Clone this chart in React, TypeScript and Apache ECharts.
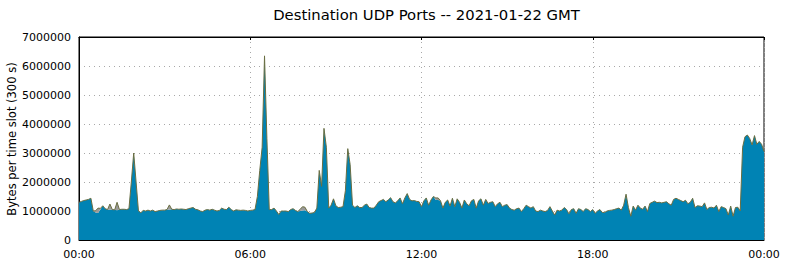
import React, { useEffect, useRef } from "react";
import * as echarts from "echarts";

const TITLE = "Destination UDP Ports -- 2021-01-22 GMT";
const Y_NAME = "Bytes per time slot (300 s)";
const SLOT_MINUTES = 5;
const X_LABEL_EVERY = 72;
const Y_MAX = 7000000;
const Y_STEP = 1000000;

// Main traffic (millions of bytes per 5-minute slot), one value per slot, 00:00 .. 24:00
const mainM: number[] = [
  1.30, 1.33, 1.36, 1.38, 1.40, 1.44, 1.00, 0.95, 0.93, 1.05, 1.18, 1.08,
  1.05, 1.04, 1.05, 1.04, 1.03, 1.05, 1.06, 1.06, 1.05, 1.08, 2.00, 3.00,
  2.00, 1.00, 0.94, 1.02, 1.00, 1.03, 1.00, 1.03, 0.98, 1.00, 1.02, 1.03,
  1.03, 1.05, 1.04, 1.06, 1.05, 1.07, 1.06, 1.07, 1.06, 1.05, 1.08, 1.10,
  1.12, 1.06, 1.04, 1.00, 0.98, 1.03, 1.05, 1.03, 1.06, 1.03, 1.00, 1.02,
  1.10, 1.06, 1.05, 1.13, 1.05, 1.00, 1.04, 1.03, 1.02, 1.03, 1.02, 1.00,
  1.02, 1.03, 1.05, 1.50, 2.40, 3.20, 6.35, 3.50, 1.05, 1.05, 1.10, 1.00,
  0.88, 1.00, 1.00, 1.00, 0.98, 1.05, 1.08, 1.02, 0.98, 1.00, 1.02, 1.03,
  0.98, 0.92, 0.93, 0.95, 1.10, 2.40, 1.85, 3.85, 3.20, 1.10, 1.20, 1.42,
  1.18, 1.12, 1.13, 1.15, 1.70, 3.15, 2.60, 1.20, 1.12, 1.18, 1.12, 1.12,
  1.20, 1.24, 1.12, 1.10, 1.10, 1.20, 1.32, 1.36, 1.40, 1.32, 1.38, 1.46,
  1.32, 1.28, 1.35, 1.45, 1.25, 1.45, 1.60, 1.40, 1.35, 1.36, 1.33, 1.32,
  1.15, 1.35, 1.45, 1.20, 1.38, 1.50, 1.38, 1.38, 1.35, 1.10, 1.30, 1.38,
  1.17, 1.44, 1.15, 1.42, 1.30, 1.10, 1.38, 1.25, 1.18, 1.35, 1.40, 1.10,
  1.35, 1.42, 1.20, 1.40, 1.26, 1.30, 1.32, 1.15, 1.25, 1.30, 1.15, 1.20,
  1.22, 1.10, 1.05, 1.03, 1.08, 1.10, 0.98, 1.08, 1.20, 1.15, 1.10, 1.15,
  1.00, 0.98, 1.03, 1.00, 0.98, 1.02, 1.15, 1.00, 0.86, 1.03, 1.00, 1.03,
  1.12, 1.05, 0.90, 1.05, 1.08, 0.92, 1.08, 1.05, 0.98, 1.08, 1.05, 0.98,
  1.05, 0.92, 1.00, 1.05, 0.95, 0.95, 1.00, 1.02, 1.03, 1.05, 1.08, 1.10,
  1.03, 1.20, 1.58, 1.12, 0.82, 1.17, 1.03, 1.20, 1.10, 1.06, 1.17, 0.98,
  1.26, 1.30, 1.34, 1.29, 1.30, 1.28, 1.30, 1.32, 1.25, 1.20, 1.40, 1.44,
  1.40, 1.36, 1.32, 1.37, 1.25, 1.30, 1.44, 1.12, 1.18, 1.17, 1.15, 1.28,
  1.05, 1.12, 1.13, 1.10, 1.20, 0.98, 1.15, 1.12, 1.08, 0.86, 1.17, 0.82,
  1.12, 1.13, 1.00, 3.20, 3.56, 3.62, 3.50, 3.28, 3.60, 3.30, 3.40, 3.30,
  3.05,
];

// Secondary (grey) layer: slot index and bytes, zero elsewhere
const greyBumps: [number, number][] = [
  [7, 60000], [8, 170000], [9, 40000], [13, 200000], [16, 270000],
  [38, 170000], [93, 60000], [94, 130000], [95, 100000],
  [150, 70000], [151, 70000],
];

const slotLabels = mainM.map((_, i) => {
  const mins = i * SLOT_MINUTES;
  const h = Math.floor(mins / 60) % 24;
  const m = mins % 60;
  return String(h).padStart(2, "0") + ":" + String(m).padStart(2, "0");
});
const mainData = mainM.map((v) => Math.round(v * 1e6));
const greyData = mainM.map((_, i) => {
  const b = greyBumps.find((g) => g[0] === i);
  return b ? b[1] : 0;
});

const FONT = "DejaVu Sans";

export default function App() {
  const ref = useRef<HTMLDivElement>(null);
  useEffect(() => {
    if (!ref.current) return;
    const chart = echarts.init(ref.current, undefined, { renderer: "svg" });
    const every = X_LABEL_EVERY - 1;
    chart.setOption({
      animation: false,
      backgroundColor: "#ffffff",
      title: {
        text: TITLE,
        left: 421.5,
        textAlign: "center",
        top: 2,
        textStyle: { fontFamily: FONT, fontSize: 14.8, fontWeight: "normal", color: "#000" },
      },
      graphic: [
        {
          type: "text",
          x: 12,
          y: 139,
          rotation: Math.PI / 2,
          style: {
            text: Y_NAME,
            font: `11.5px "${FONT}"`,
            fill: "#000",
            align: "center",
            verticalAlign: "middle",
          },
        },
      ],
      grid: {
        left: 79,
        right: 21,
        top: 37,
        bottom: 24,
        containLabel: false,
        outerBoundsMode: "none",
        show: true,
        borderColor: "#000",
        borderWidth: 1,
        backgroundColor: "transparent",
      },
      xAxis: [
        {
          type: "category",
          data: slotLabels,
          boundaryGap: false,
          axisLine: { show: true, lineStyle: { color: "#000", width: 1 } },
          axisTick: { show: false },
          axisLabel: {
            interval: every,
            fontFamily: FONT,
            fontSize: 11,
            color: "#000",
            margin: 9,
            showMaxLabel: true,
          },
          splitLine: {
            show: true,
            interval: every,
            lineStyle: { color: "#a8a8a8", type: [1, 4], width: 1 },
          },
        },
        {
          type: "category",
          data: slotLabels,
          boundaryGap: false,
          position: "top",
          axisLine: { show: true, lineStyle: { color: "#000", width: 1 } },
          axisTick: { show: true, inside: true, length: 3, interval: every, lineStyle: { color: "#000" } },
          axisLabel: { show: false },
          splitLine: { show: false },
        },
      ],
      yAxis: {
        type: "value",
        min: 0,
        max: Y_MAX,
        interval: Y_STEP,
        axisLine: { show: true, lineStyle: { color: "#000", width: 1 } },
        axisTick: { show: false },
        axisLabel: {
          fontFamily: FONT,
          fontSize: 11,
          color: "#000",
          margin: 8,
          formatter: (v: number) => String(v),
        },
        splitLine: { show: true, lineStyle: { color: "#a8a8a8", type: [1, 4], width: 1 } },
      },
      series: [
        {
          name: "main",
          type: "line",
          stack: "total",
          data: mainData,
          symbol: "none",
          lineStyle: { width: 0 },
          areaStyle: { color: "#0083b4", opacity: 1 },
          itemStyle: { color: "#0083b4" },
        },
        {
          name: "other",
          type: "line",
          stack: "total",
          data: greyData,
          symbol: "none",
          lineStyle: { width: 1, color: "#6a6e42" },
          areaStyle: { color: "#9a9a9a", opacity: 1 },
          itemStyle: { color: "#9a9a9a" },
        },
      ],
    });
    return () => chart.dispose();
  }, []);
  return (
    <div
      ref={ref}
      style={{ position: "fixed", left: 0, top: 0, width: 785, height: 264 }}
    />
  );
}
